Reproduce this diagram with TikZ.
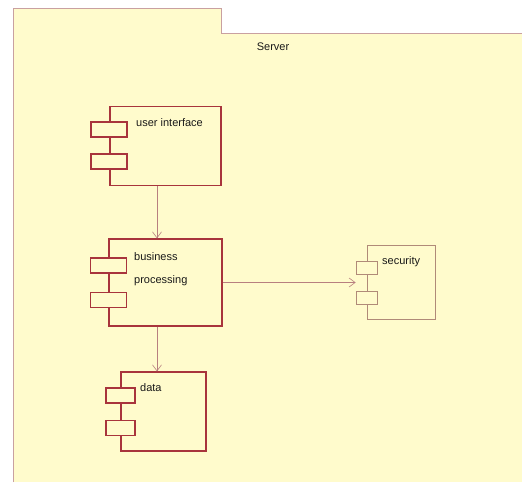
\documentclass[tikz,border=0pt]{standalone}
\usepackage{fontspec}
\setmainfont{Liberation Sans}
\usetikzlibrary{arrows.meta}
\definecolor{pkgfill}{HTML}{FFFBCC}
\definecolor{pkgline}{HTML}{C9A0A0}
\definecolor{compline}{HTML}{A8343C}
\definecolor{secline}{HTML}{B08A78}
\definecolor{connline}{HTML}{B87F7F}
\tikzset{
  comp/.style={draw=compline, line width=1.3pt, fill=pkgfill, inner sep=0pt},
  seccomp/.style={draw=secline, line width=0.8pt, fill=pkgfill, inner sep=0pt},
  port/.style={draw=compline, line width=1.1pt, fill=pkgfill, inner sep=0pt, minimum width=36pt, minimum height=15pt},
  secport/.style={draw=secline, line width=0.8pt, fill=pkgfill, inner sep=0pt, minimum width=21pt, minimum height=13pt},
  lbl/.style={font=\fontsize{11}{14}\selectfont, text=black!90, inner sep=0pt, anchor=north west, align=left},
  conn/.style={draw=connline, line width=0.6pt, -{Straight Barb[length=6pt,width=9pt]}}
}
\begin{document}
\begin{tikzpicture}[x=1pt,y=-1pt]
\useasboundingbox (0,0) rectangle (522,482);
\fill[white] (0,0) rectangle (522,482);
% package
\fill[pkgfill] (13,8) rectangle (221,33);
\fill[pkgfill] (13,33) rectangle (522,482);
\draw[pkgline, line width=1pt] (13,482) -- (13,8) -- (221,8) -- (221,33) -- (522,33);
\node[lbl, anchor=center] (srv) at (273,47) {Server};

% user interface
\node[comp, minimum width=111pt, minimum height=79pt] (ui) at (165.5,146) {};
\node[port] (ui1) at (109,129.5) {};
\node[port] (ui2) at (109,161.5) {};
\node[lbl] (uit) at (136,118) {user interface};

% business processing
\node[comp, minimum width=113pt, minimum height=87pt] (bp) at (165.5,282.5) {};
\node[port] (bp1) at (108.5,265.5) {};
\node[port] (bp2) at (108.5,300) {};
\node[lbl, font=\fontsize{11}{23}\selectfont] (bpt) at (134,252) {business\\processing};

% data
\node[comp, minimum width=85pt, minimum height=79pt] (dt) at (163.5,411.5) {};
\node[port, minimum width=29pt] (dt1) at (120.5,395.5) {};
\node[port, minimum width=29pt] (dt2) at (120.5,428) {};
\node[lbl] (dtt) at (140,383) {data};

% security
\node[seccomp, minimum width=68pt, minimum height=74pt] (sc) at (401,282) {};
\node[secport] (sc1) at (366.5,267.5) {};
\node[secport] (sc2) at (366.5,297.5) {};
\node[lbl] (sct) at (382,256) {security};

% connectors
\draw[conn] ([xshift=-8.5pt]ui.south) -- ([xshift=-8.5pt]ui.south |- bp.north);
\draw[conn] ([xshift=-8.5pt]bp.south) -- ([xshift=-8.5pt]bp.south |- dt.north);
\draw[conn] (bp.east) -- (bp.east -| sc1.west);
\end{tikzpicture}
\end{document}
